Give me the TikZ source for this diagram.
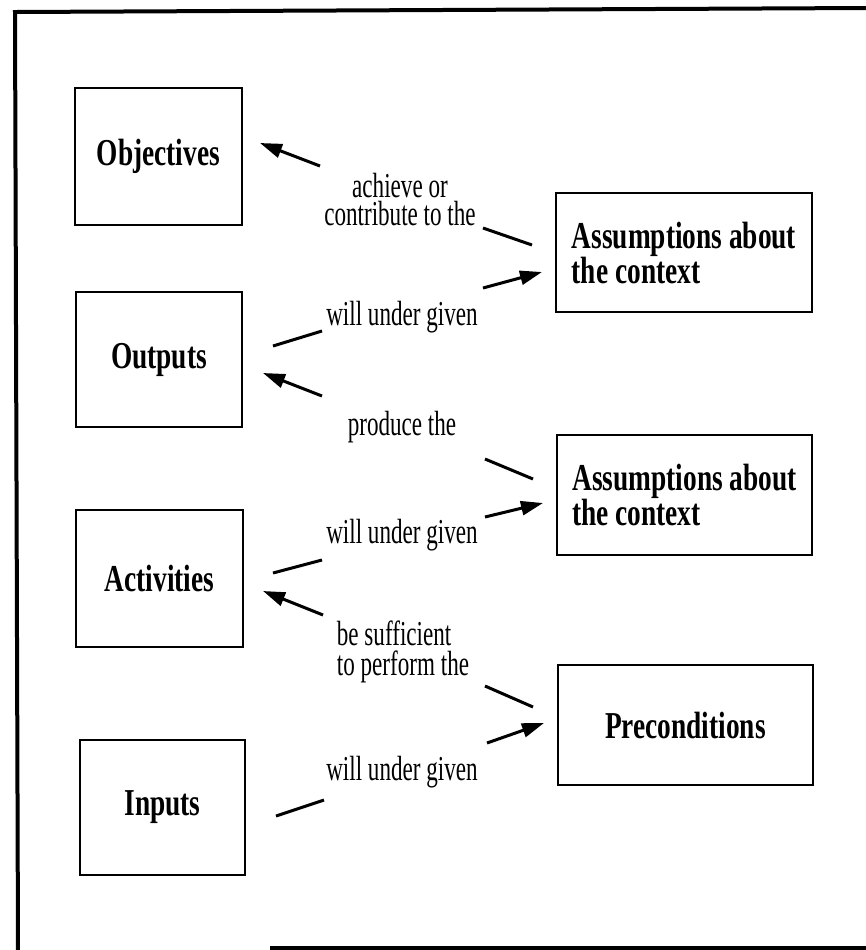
\documentclass[tikz,border=0pt]{standalone}
\usepackage{fontspec}
\setmainfont{Liberation Serif}[FakeStretch=0.72]
\newfontfamily\lblfont{Liberation Serif}[FakeStretch=0.66]
\usetikzlibrary{arrows.meta}
\tikzset{>={Triangle[length=11pt,width=7pt]}}
\tikzstyle{bbox}=[draw,line width=1.2pt,inner sep=0pt,align=left,
  font=\bfseries\fontsize{19}{17.5}\selectfont]
\tikzstyle{lbl}=[inner sep=0pt,align=center,font=\lblfont\fontsize{17.5}{14}\selectfont]
\tikzstyle{bline}=[line width=1.5pt]

\begin{document}
\begin{tikzpicture}[x=0.5pt,y=-0.5pt]
      \useasboundingbox (0,0) rectangle (866,950);

      % FRAME
      \draw[line width=2pt] (866,8) -- (15,12) -- (18,950);
      \draw[line width=2pt] (270,948) -- (866,948);

      % BOXES
      \node[bbox,minimum width=83.5pt,minimum height=68.5pt] (obj) at (158.5,156.5) {Objectives};
      \node[bbox,minimum width=83pt,minimum height=67.5pt] (out) at (159,359.5) {Outputs};
      \node[bbox,minimum width=83.5pt,minimum height=68.5pt] (act) at (159.5,578.5) {Activities};
      \node[bbox,minimum width=82.5pt,minimum height=67.5pt] (inp) at (162.5,807.5) {Inputs};
      \node[bbox,minimum width=128pt,minimum height=59.5pt] (asmA) at (684,252.5) {Assumptions about\\the context};
      \node[bbox,minimum width=127.5pt,minimum height=60pt] (asmB) at (684.5,495) {Assumptions about\\the context};
      \node[bbox,minimum width=127.5pt,minimum height=60pt] (pre) at (685.5,725) {Preconditions};

      % LABELS
      \node[lbl] (achv) at (400,200) {achieve or\\contribute to the};
      \node[lbl] (willA) at (402,317) {will under given};
      \node[lbl] (prod) at (402,427) {produce the};
      \node[lbl] (willB) at (402,535) {will under given};
      \node[lbl,align=left] (suff) at (403,652) {be sufficient\\[1pt]to perform the};
      \node[lbl] (willC) at (402,772) {will under given};

      % LINKS
      \coordinate (sA1) at (532,245); \coordinate (sA2) at (483,228);
      \coordinate (aA1) at (320,166); \coordinate (aA2) at (260,143);
      \coordinate (sB1) at (273,346); \coordinate (sB2) at (322,331);
      \coordinate (aB1) at (483,288); \coordinate (aB2) at (542,272);
      \coordinate (aC1) at (322,396); \coordinate (aC2) at (263,373);
      \coordinate (sC1) at (533,479); \coordinate (sC2) at (485,459);
      \coordinate (aD1) at (485,517); \coordinate (aD2) at (543,503);
      \coordinate (sD1) at (273,573); \coordinate (sD2) at (322,560);
      \coordinate (aE1) at (323,615); \coordinate (aE2) at (263,591);
      \coordinate (sE1) at (533,707); \coordinate (sE2) at (485,686);
      \coordinate (aF1) at (487,743); \coordinate (aF2) at (544,723);
      \coordinate (sF1) at (276,816); \coordinate (sF2) at (324,800);

      \draw[bline] (sA1) -- (sA2);
      \draw[bline,->] (aA1) -- (aA2);
      \draw[bline] (sB1) -- (sB2);
      \draw[bline,->] (aB1) -- (aB2);
      \draw[bline,->] (aC1) -- (aC2);
      \draw[bline] (sC1) -- (sC2);
      \draw[bline,->] (aD1) -- (aD2);
      \draw[bline] (sD1) -- (sD2);
      \draw[bline,->] (aE1) -- (aE2);
      \draw[bline] (sE1) -- (sE2);
      \draw[bline,->] (aF1) -- (aF2);
      \draw[bline] (sF1) -- (sF2);

    \end{tikzpicture}
\end{document}
